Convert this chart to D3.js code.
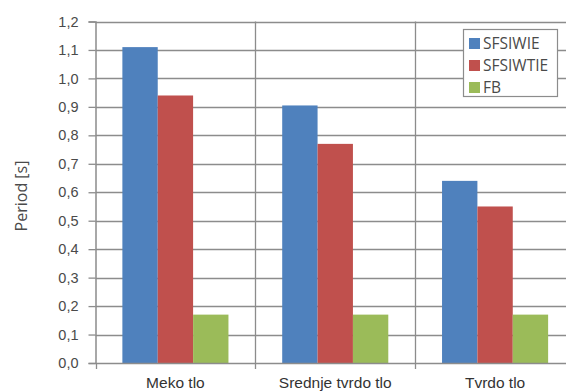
<!DOCTYPE html>
<html><head><meta charset="utf-8">
<script src="https://cdn.jsdelivr.net/npm/d3@7"></script>
<style>body{margin:0;background:#fff}svg{display:block}</style>
</head><body>
<script>
const categories = ["Meko tlo", "Srednje tvrdo tlo", "Tvrdo tlo"];
const seriesNames = ["SFSIWIE", "SFSIWTIE", "FB"];
const SFSIWIE = [1.11, 0.905, 0.64];
const SFSIWTIE = [0.94, 0.77, 0.55];
const FB = [0.17, 0.17, 0.17];
const yTicks = [0,0.1,0.2,0.3,0.4,0.5,0.6,0.7,0.8,0.9,1.0,1.1,1.2];
const colors = ["#4F81BD", "#C0504D", "#9BBB59"];
const values = [SFSIWIE, SFSIWTIE, FB];

const W = 566, H = 391;
const left = 95.5;
const svg = d3.select("body").append("svg").attr("width", W).attr("height", H)
  .style("font-family", "'Open Sans', sans-serif");

const x = d3.scaleBand().domain(categories).range([left, 575]).paddingInner(0).paddingOuter(0);
const y = d3.scaleLinear().domain([0, 1.2]).range([363, 21.5]);
const xs = d3.scaleBand().domain(seriesNames).range([0, x.bandwidth()]).paddingInner(0).paddingOuter(0.76);

const grid = "#8c8c8c";
const txt = "#4a4a4a";
// horizontal gridlines
svg.append("g").selectAll("line").data(yTicks.slice(1)).join("line")
  .attr("x1", left).attr("x2", W).attr("y1", d => Math.round(y(d)) + 0.5).attr("y2", d => Math.round(y(d)) + 0.5)
  .attr("stroke", grid).attr("stroke-width", 1.3);
// vertical gridlines at category boundaries
svg.append("g").selectAll("line").data(categories.slice(1)).join("line")
  .attr("x1", d => Math.round(x(d)) + 0.5).attr("x2", d => Math.round(x(d)) + 0.5)
  .attr("y1", y(1.2)).attr("y2", y(0))
  .attr("stroke", grid).attr("stroke-width", 1.3);

// bars
categories.forEach((c, ci) => {
  svg.append("g").selectAll("rect").data(seriesNames).join("rect")
    .attr("x", (s) => x(c) + xs(s))
    .attr("width", xs.bandwidth())
    .attr("y", (s, si) => y(values[si][ci]))
    .attr("height", (s, si) => y(0) - y(values[si][ci]))
    .attr("fill", (s, si) => colors[si]);
});

// y axis
const yAxis = svg.append("g").attr("transform", `translate(${left},0)`)
  .call(d3.axisLeft(y).tickValues(yTicks).tickSize(7).tickPadding(10)
    .tickFormat(d => d3.format(".1f")(d).replace(".", ",")));
yAxis.select(".domain").attr("stroke", grid).attr("stroke-width", 1.5);
yAxis.selectAll(".tick line").attr("stroke", grid).attr("stroke-width", 1.3);
yAxis.selectAll("text").attr("fill", txt).style("font-size", "14.5px");

// x axis
const xAxis = svg.append("g").attr("transform", `translate(0,${y(0)})`)
  .call(d3.axisBottom(x).tickSize(0).tickPadding(14));
xAxis.select(".domain").attr("stroke", grid).attr("stroke-width", 1.5);
xAxis.selectAll("text").attr("fill", "#333").style("font-size", "15.5px");
svg.append("g").selectAll("line").data(categories).join("line")
  .attr("x1", d => Math.round(x(d)) + 0.5).attr("x2", d => Math.round(x(d)) + 0.5)
  .attr("y1", y(0)).attr("y2", y(0) + 6).attr("stroke", grid).attr("stroke-width", 1.3);

// y label
svg.append("text").attr("transform", "translate(21,196) rotate(-90)")
  .attr("text-anchor", "middle").attr("dy", "0.35em").attr("fill", txt).style("font-size", "16px").text("Period [s]");

// legend
const lg = svg.append("g");
lg.append("rect").attr("x", 463.5).attr("y", 29.5).attr("width", 94).attr("height", 67)
  .attr("fill", "#fff").attr("stroke", grid).attr("stroke-width", 1.2);
seriesNames.forEach((s, i) => {
  lg.append("rect").attr("x", 469).attr("y", 38 + i * 22).attr("width", 11).attr("height", 11).attr("fill", colors[i]);
  lg.append("text").attr("x", 483).attr("y", 43.5 + i * 22).attr("dy", "0.35em")
    .attr("fill", txt).style("font-size", "15.5px").text(s);
});
</script>
</body></html>
